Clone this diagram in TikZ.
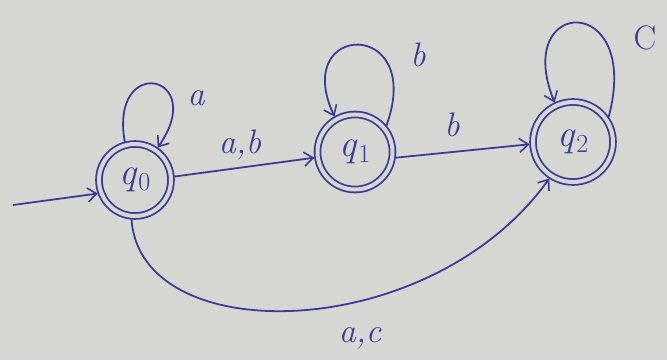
\documentclass[tikz,border=0pt]{standalone}
\usetikzlibrary{arrows.meta}
\definecolor{paper}{HTML}{D6D7D3}
\definecolor{ink}{HTML}{3A3C98}
\newcommand{\stlab}[1]{\textit{q}\raisebox{-0.35ex}{\fontsize{26}{28}\selectfont #1}}
\begin{document}
\begin{tikzpicture}[x=1pt,y=1pt,
  state/.style={circle,draw=ink,line width=1.8pt,double=paper,double distance=4pt,
    inner sep=0pt,outer sep=3.5pt,text=ink,font=\fontsize{38}{42}\selectfont},
  conn/.style={draw=ink,line width=1.8pt,-{Straight Barb[length=9pt,width=14pt,line width=1.6pt]}},
  lbl/.style={text=ink,font=\fontsize{34}{40}\selectfont\itshape}]
\fill[paper] (0,0) rectangle (667,360);
\useasboundingbox (0,0) rectangle (667,360);
\node[state,minimum size=72pt] (q0) at (135,180) {\stlab{0}};
\node[state,minimum size=75pt] (q1) at (355,208) {\stlab{1}};
\node[state,minimum size=80pt] (q2) at (573,218) {\stlab{2}};
\coordinate (init) at (13,155);
\draw[conn] (init) -- (q0.200);
\draw[conn] (q0.105) .. controls +(100:90) and +(55:90) .. (q0.55);
\draw[conn] (q1.40) .. controls +(70:115) and +(115:105) .. (q1.120);
\draw[conn] (q2.35) .. controls +(75:130) and +(112:115) .. (q2.115);
\draw[conn] (q0.5) -- (q1.188);
\draw[conn] (q1.-8) -- (q2.183);
\draw[conn] (q0.265) .. controls (140,10) and (430,15) .. (q2.237);
\node[lbl] (la) at (196,262) {a};
\node[lbl] (lab) at (240,215) {a,b};
\node[lbl] (lb1) at (418,305) {b};
\node[lbl] (lb2) at (452,235) {b};
\node[lbl,font=\fontsize{34}{40}\selectfont] (lc) at (645,322) {C};
\node[lbl] (lac) at (360,22) {a,c};
\end{tikzpicture}
\end{document}
